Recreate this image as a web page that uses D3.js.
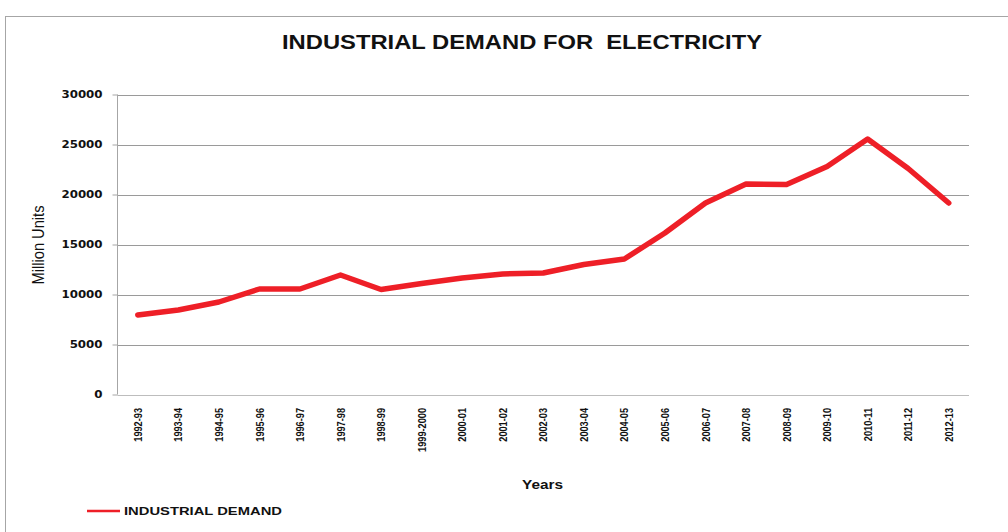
<!DOCTYPE html>
<html><head><meta charset="utf-8">
<script src="https://cdn.jsdelivr.net/npm/d3@7"></script>
<style>body{margin:0;background:#fff}svg{display:block}</style>
</head><body>
<svg id="c" width="1008" height="532"></svg>
<script>
const categories = ["1992-93","1993-94","1994-95","1995-96","1996-97","1997-98","1998-99","1999-2000","2000-01","2001-02","2002-03","2003-04","2004-05","2005-06","2006-07","2007-08","2008-09","2009-10","2010-11","2011-12","2012-13"];
const demand = [7950,8450,9250,10550,10550,11950,10500,11100,11650,12050,12150,13000,13550,16150,19150,21050,21000,22800,25550,22600,19150];
const yTicks = [0,5000,10000,15000,20000,25000,30000];
const seriesName = "INDUSTRIAL DEMAND";
const title = "INDUSTRIAL DEMAND FOR\u00a0\u00a0ELECTRICITY";

const svg = d3.select("#c");
const m = {left:117.5, right:969, top:94.5, bottom:394.5};
const stretch = (sel,k) => sel.each(function(){
  const w = this.getComputedTextLength();
  d3.select(this).attr("textLength", w*k).attr("lengthAdjust","spacingAndGlyphs");
});

svg.append("rect").attr("x",5.5).attr("y",16.5).attr("width",1010).attr("height",530)
  .attr("fill","none").attr("stroke","#a6a6a6").attr("stroke-width",1);

const x = d3.scaleBand().domain(categories).range([m.left,m.right]);
const y = d3.scaleLinear().domain([0,30000]).range([m.bottom,m.top]);

// grid
svg.append("g").selectAll("line").data(yTicks).join("line")
  .attr("x1",m.left).attr("x2",m.right)
  .attr("y1",d=>Math.round(y(d))+0.5).attr("y2",d=>Math.round(y(d))+0.5)
  .attr("stroke",d=>d===0?"#bdbdbd":"#9a9a9a").attr("stroke-width",1);

// y axis
const ya = svg.append("g").attr("transform",`translate(${m.left},0)`)
  .call(d3.axisLeft(y).tickValues(yTicks).tickSize(5).tickPadding(10).tickFormat(d3.format("d")));
ya.select(".domain").attr("stroke","#a6a6a6").attr("d",`M0,${m.top}V${m.bottom}`);
ya.selectAll(".tick line").attr("stroke","#a6a6a6");
ya.selectAll(".tick text").attr("font-family","DejaVu Sans").attr("font-weight","bold")
  .attr("font-size","10px").attr("fill","#111").call(stretch,1.18);

// x axis labels
const xa = svg.append("g").attr("transform",`translate(0,${m.bottom})`)
  .call(d3.axisBottom(x).tickSize(0));
xa.select(".domain").remove();
xa.selectAll(".tick text")
  .attr("transform","rotate(-90) scale(1,1.28)")
  .attr("text-anchor","end").attr("dy","0.35em").attr("x",-13.5).attr("y",0)
  .attr("font-family","Liberation Sans").attr("font-weight","bold")
  .attr("font-size","9.2px").attr("fill","#111");

// line
const line = d3.line().x((d,i)=>x(categories[i])+x.bandwidth()/2).y(d=>y(d));
svg.append("path").datum(demand).attr("d",line).attr("fill","none")
  .attr("stroke","#ee1f27").attr("stroke-width",5.5).attr("stroke-linejoin","round").attr("stroke-linecap","round");

// title
svg.append("text").attr("x",522).attr("y",48.5).attr("text-anchor","middle")
  .attr("font-family","Liberation Sans").attr("font-weight","bold")
  .attr("font-size","19.5px").attr("fill","#111").text(title)
  .attr("textLength",480).attr("lengthAdjust","spacingAndGlyphs");

// axis titles
svg.append("text").attr("transform","translate(44,245) rotate(-90) scale(1,1.2)").attr("text-anchor","middle")
  .attr("font-family","Liberation Sans").attr("font-size","14px").attr("fill","#111").text("Million Units")
  .attr("textLength",79).attr("lengthAdjust","spacingAndGlyphs");
svg.append("text").attr("x",542.5).attr("y",488.5).attr("text-anchor","middle")
  .attr("font-family","Liberation Sans").attr("font-weight","bold").attr("font-size","12px").attr("fill","#111").text("Years")
  .attr("textLength",41).attr("lengthAdjust","spacingAndGlyphs");

// legend
svg.append("line").attr("x1",87).attr("x2",120).attr("y1",511).attr("y2",511)
  .attr("stroke","#ee1f27").attr("stroke-width",2.5);
svg.append("text").attr("x",124).attr("y",514.5).attr("font-family","Liberation Sans").attr("font-weight","bold")
  .attr("font-size","10px").attr("fill","#111").text(seriesName)
  .attr("textLength",158).attr("lengthAdjust","spacingAndGlyphs");
</script>
</body></html>
